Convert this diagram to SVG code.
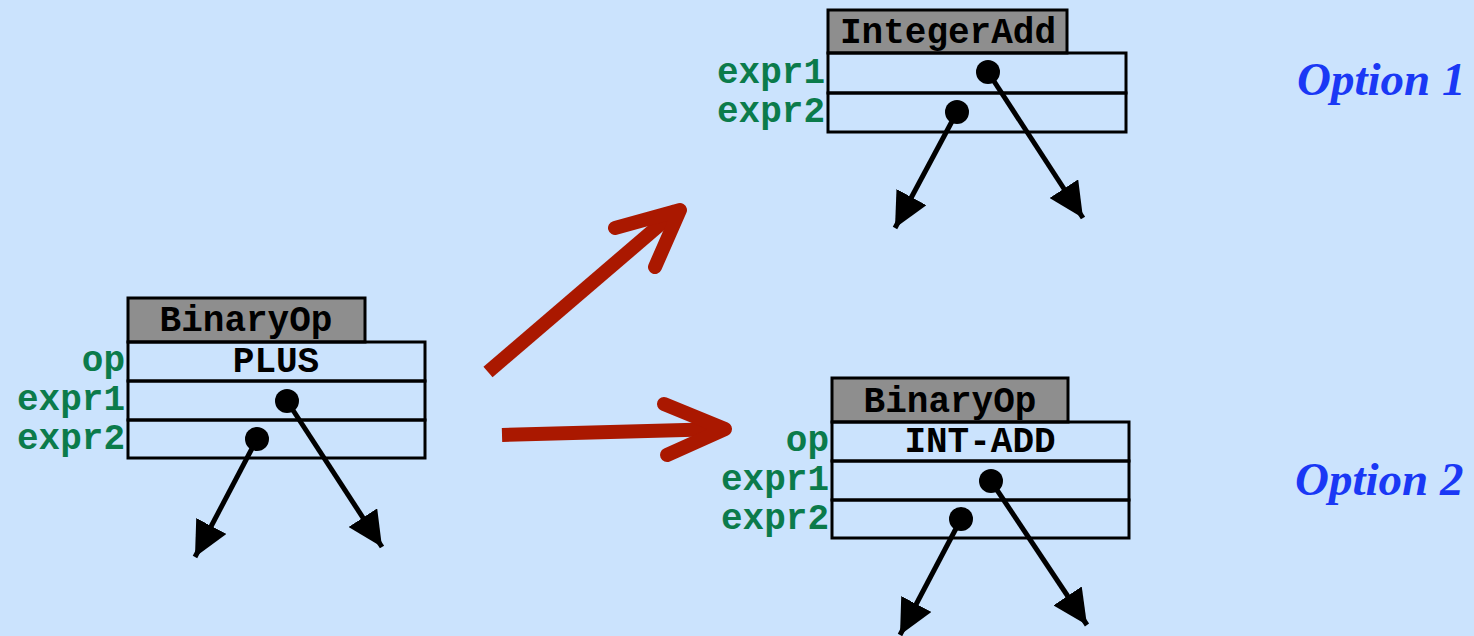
<svg xmlns="http://www.w3.org/2000/svg" width="1474" height="636" viewBox="0 0 1474 636">
  <style>
    .hdr { fill: #8e8e8e; stroke: #000; stroke-width: 3; }
    .row { fill: none; stroke: #000; stroke-width: 3; }
    .ttl { font-family: "Liberation Mono", "Courier New", monospace; font-weight: bold; font-size: 36px; fill: #000; text-anchor: middle; }
    .fld { font-family: "Liberation Mono", "Courier New", monospace; font-weight: bold; font-size: 36px; fill: #0b7b4b; text-anchor: end; }
    .ptr { stroke: #000; stroke-width: 5; fill: none; marker-end: url(#head); }
    .dot { fill: #000; }
    .big { fill: none; stroke: #aa1800; stroke-width: 14; stroke-linecap: round; stroke-linejoin: round; }
    .opt { font-family: "Liberation Serif", "Times New Roman", serif; font-weight: bold; font-style: italic; font-size: 47px; fill: #1a38f5; }
  </style>
  <defs>
    <marker id="head" viewBox="0 0 10 10" refX="10" refY="5" markerWidth="7" markerHeight="6.8" preserveAspectRatio="none" markerUnits="strokeWidth" orient="auto">
      <path d="M0,0 L10,5 L0,10 z" fill="#000"/>
    </marker>
  </defs>
  <rect width="1474" height="636" fill="#cbe3fd"/>

  <!-- original BinaryOp node -->
  <g id="node-binaryop-plus">
    <rect class="hdr" x="128" y="298" width="237" height="44"/>
    <text class="ttl" x="246" y="331">BinaryOp</text>
    <rect class="row" x="128" y="342" width="297" height="39"/>
    <rect class="row" x="128" y="381" width="297" height="39"/>
    <rect class="row" x="128" y="420" width="297" height="38"/>
    <text class="ttl" x="276" y="372">PLUS</text>
    <text class="fld" x="125" y="371">op</text>
    <text class="fld" x="125" y="410">expr1</text>
    <text class="fld" x="125" y="449">expr2</text>
    <circle class="dot" cx="287" cy="401" r="12"/>
    <circle class="dot" cx="257" cy="439" r="12"/>
  </g>

  <!-- option 1: IntegerAdd node -->
  <g id="node-integeradd">
    <rect class="hdr" x="828" y="10" width="239" height="43"/>
    <text class="ttl" x="948" y="43">IntegerAdd</text>
    <rect class="row" x="828" y="53" width="298" height="40"/>
    <rect class="row" x="828" y="93" width="298" height="39"/>
    <text class="fld" x="825" y="83">expr1</text>
    <text class="fld" x="825" y="122">expr2</text>
    <circle class="dot" cx="988" cy="72" r="12"/>
    <circle class="dot" cx="957" cy="112" r="12"/>
  </g>

  <!-- option 2: BinaryOp node with INT-ADD -->
  <g id="node-binaryop-intadd">
    <rect class="hdr" x="832" y="378" width="236" height="44"/>
    <text class="ttl" x="950" y="412">BinaryOp</text>
    <rect class="row" x="832" y="422" width="297" height="39"/>
    <rect class="row" x="832" y="461" width="297" height="39"/>
    <rect class="row" x="832" y="500" width="297" height="38"/>
    <text class="ttl" x="980" y="452">INT-ADD</text>
    <text class="fld" x="829" y="451">op</text>
    <text class="fld" x="829" y="490">expr1</text>
    <text class="fld" x="829" y="529">expr2</text>
    <circle class="dot" cx="991" cy="481" r="12"/>
    <circle class="dot" cx="961" cy="519" r="12"/>
  </g>

  <g id="connectors">
    <!-- child pointers -->
    <line class="ptr" x1="287" y1="401" x2="382" y2="547"/>
    <line class="ptr" x1="257" y1="439" x2="195" y2="557"/>
    <line class="ptr" x1="988" y1="72" x2="1083" y2="218"/>
    <line class="ptr" x1="957" y1="112" x2="895" y2="228"/>
    <line class="ptr" x1="991" y1="481" x2="1087" y2="625"/>
    <line class="ptr" x1="961" y1="519" x2="900" y2="635"/>
    <!-- transformation arrows -->
    <path class="big" d="M488,372 L677,210" style="stroke-linecap: butt"/>
    <path class="big" d="M615,228 L680,210 L655,267"/>
    <path class="big" d="M502,435 L722,429" style="stroke-linecap: butt"/>
    <path class="big" d="M664,404 L725,429 L667,455"/>
  </g>

  <text class="opt" x="1297" y="95">Option 1</text>
  <text class="opt" x="1295" y="495">Option 2</text>
</svg>
